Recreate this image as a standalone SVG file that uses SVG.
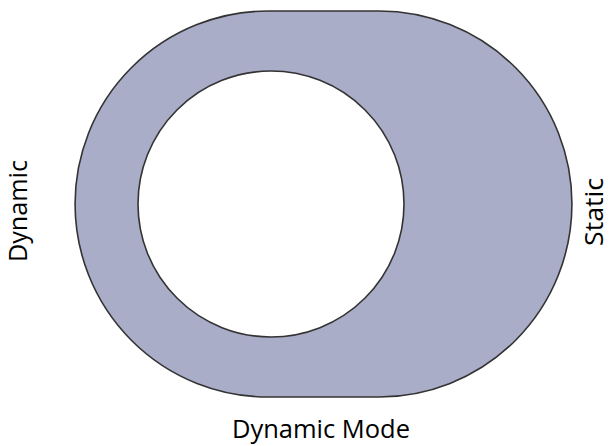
<svg xmlns="http://www.w3.org/2000/svg" width="611" height="446" viewBox="0 0 611 446">
  <style>
    .shape { fill: #A9ADC8; stroke: #333333; stroke-width: 1.6; fill-rule: evenodd; }
    .lbl { font-family: "Open Sans", "Liberation Sans", sans-serif; font-size: 25px; fill: #000000; text-anchor: middle; }
  </style>
  <rect width="611" height="446" fill="#ffffff"/>
  <g id="ring">
    <path class="shape" d="M268,11 L379,11 A193,193 0 0 1 379,397 L268,397 A193,193 0 0 1 268,11 Z M138,204 A133,133 0 1 0 404,204 A133,133 0 1 0 138,204 Z"/>
  </g>
  <g id="label-dynamic">
    <text class="lbl" transform="translate(27,211) rotate(-90)" textLength="102" lengthAdjust="spacingAndGlyphs">Dynamic</text>
  </g>
  <g id="label-static">
    <text class="lbl" transform="translate(603,212) rotate(-90)" textLength="68" lengthAdjust="spacingAndGlyphs">Static</text>
  </g>
  <g id="label-mode">
    <text class="lbl" x="321" y="438" textLength="178" lengthAdjust="spacingAndGlyphs">Dynamic Mode</text>
  </g>
</svg>
